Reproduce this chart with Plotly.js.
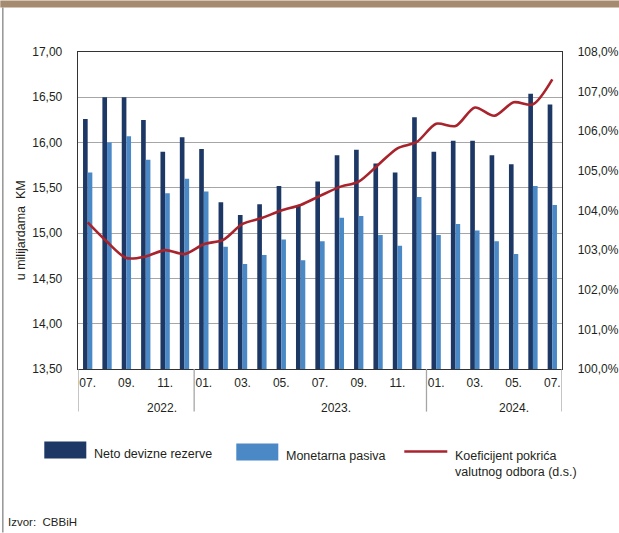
<!DOCTYPE html>
<html>
<head>
<meta charset="utf-8">
<script src="https://cdn.plot.ly/plotly-3.0.1.min.js"></script>
<style>
html,body{margin:0;padding:0;background:#fff;}
#chart{width:619px;height:533px;}
</style>
</head>
<body>
<div id="chart"></div>
<script>
// ---- data ----
const months = ['07.2022','08.2022','09.2022','10.2022','11.2022','12.2022',
  '01.2023','02.2023','03.2023','04.2023','05.2023','06.2023','07.2023','08.2023','09.2023','10.2023','11.2023','12.2023',
  '01.2024','02.2024','03.2024','04.2024','05.2024','06.2024','07.2024'];
const netoDevizneRezerve = [16.26,16.50,16.50,16.25,15.90,16.06,15.93,15.34,15.20,15.32,15.52,15.30,15.57,15.86,15.92,15.77,15.67,16.28,15.90,16.02,16.02,15.86,15.76,16.54,16.42];
const monetarnaPasiva = [15.67,16.00,16.07,15.81,15.44,15.60,15.46,14.85,14.66,14.76,14.93,14.70,14.91,15.17,15.19,14.98,14.86,15.40,14.98,15.10,15.03,14.91,14.77,15.52,15.31];
const koeficijent = [103.70,103.21,102.80,102.84,103.00,102.90,103.15,103.26,103.66,103.81,104.00,104.14,104.37,104.59,104.73,105.15,105.57,105.73,106.19,106.13,106.60,106.39,106.73,106.68,107.31];
const tickMonths = ['07.2022','09.2022','11.2022','01.2023','03.2023','05.2023','07.2023','09.2023','11.2023','01.2024','03.2024','05.2024','07.2024'];
const tickLabels = ['07.','09.','11.','01.','03.','05.','07.','09.','11.','01.','03.','05.','07.'];
const years = ['2022.','2023.','2024.'];
const seriesNames = ['Neto devizne rezerve','Monetarna pasiva','Koeficijent pokrića<br>valutnog odbora (d.s.)'];
const yTitle = 'u milijardama&nbsp; KM';
const sourceText = 'Izvor:&nbsp; CBBiH';

// ---- layout helpers (pixel -> paper) ----
const L = 77.7, R = 561.7, T = 51.7, B = 369.3;
const px = x => (x - L) / (R - L);
const py = y => (B - y) / (B - T);

const C_DARK = '#1d3865', C_LIGHT = '#4a88c6', C_RED = '#a8232c', C_TEXT = '#231f20';
const FONT = 'Liberation Sans, Arial, sans-serif';

const traces = [
  {type:'bar', x:months, y:netoDevizneRezerve, name:seriesNames[0], marker:{color:C_DARK}, showlegend:false, hoverinfo:'x+y'},
  {type:'bar', x:months, y:monetarnaPasiva, name:seriesNames[1], marker:{color:C_LIGHT}, showlegend:false, hoverinfo:'x+y'},
  {type:'scatter', mode:'lines', x:months, y:koeficijent, yaxis:'y2', name:seriesNames[2],
   line:{color:C_RED, width:2.6, shape:'spline', smoothing:0.8}, showlegend:false}
];

const shapes = [];
// top brown band & left frame line
shapes.push({type:'rect', xref:'paper', yref:'paper', x0:px(0), x1:px(619), y0:py(0), y1:py(7), fillcolor:'#a58b6f', line:{width:0}, layer:'above'});
shapes.push({type:'line', xref:'paper', yref:'paper', x0:px(2.5), x1:px(2.5), y0:py(7), y1:py(533), line:{color:'#9a9a9a', width:1.6}});
// year separators below axis
[-0.5, 5.5, 17.5, 24.5].forEach(v => shapes.push({type:'line', xref:'x', yref:'paper', x0:v, x1:v, y0:0, y1:py(412), line:{color:'#a6a6a6', width:1.3}}));
// legend swatches
shapes.push({type:'rect', xref:'paper', yref:'paper', x0:px(44), x1:px(86), y0:py(459), y1:py(442), fillcolor:C_DARK, line:{width:0}});
shapes.push({type:'rect', xref:'paper', yref:'paper', x0:px(236), x1:px(278), y0:py(461), y1:py(444), fillcolor:C_LIGHT, line:{width:0}});
shapes.push({type:'line', xref:'paper', yref:'paper', x0:px(404), x1:px(447), y0:py(452), y1:py(452), line:{color:C_RED, width:2.5}});

const ann = [];
const tf = {family:FONT, size:12.5, color:C_TEXT};
ann.push({xref:'paper', yref:'paper', x:px(92), y:py(454), xanchor:'left', yanchor:'middle', text:seriesNames[0], showarrow:false, font:tf});
ann.push({xref:'paper', yref:'paper', x:px(284), y:py(456), xanchor:'left', yanchor:'middle', text:seriesNames[1], showarrow:false, font:tf});
ann.push({xref:'paper', yref:'paper', x:px(453), y:py(464.5), xanchor:'left', yanchor:'middle', align:'left', text:seriesNames[2], showarrow:false, font:tf});
ann.push({xref:'paper', yref:'paper', x:px(21), y:py(230), xanchor:'center', yanchor:'middle', textangle:-90, text:yTitle, showarrow:false, font:{family:FONT, size:12.5, color:C_TEXT}});
ann.push({xref:'paper', yref:'paper', x:px(6), y:py(523), xanchor:'left', yanchor:'middle', text:sourceText, showarrow:false, font:{family:FONT, size:11.5, color:C_TEXT}});
const yearPos = [3.85, 12.84, 22.0];
years.forEach((t,i) => ann.push({xref:'x', yref:'paper', x:yearPos[i], y:py(408), xanchor:'center', yanchor:'middle', text:t, showarrow:false, font:{family:FONT, size:12, color:C_TEXT}}));

const layout = {
  width:619, height:533,
  margin:{l:L, r:619-R, t:T, b:533-B, pad:0},
  paper_bgcolor:'#fff', plot_bgcolor:'#fff',
  separators:',.',
  font:{family:FONT, size:12, color:C_TEXT},
  barmode:'group', bargap:0.52, bargroupgap:0,
  showlegend:false,
  xaxis:{type:'category', categoryorder:'array', categoryarray:months, tickvals:tickMonths, ticktext:tickLabels,
    showgrid:false, showline:true, mirror:true, linecolor:'#333', linewidth:1.3, ticks:'', ticklabelstandoff:2,
    tickfont:{family:FONT, size:12, color:C_TEXT}, range:[-0.5,24.5], fixedrange:true},
  yaxis:{range:[13.5,17], dtick:0.5, tickformat:'.2f', showgrid:true, gridcolor:'#a6a6a6', gridwidth:1,
    showline:true, linecolor:'#333', linewidth:1.3, ticks:'', ticklabelstandoff:12, zeroline:false,
    tickfont:{family:FONT, size:12, color:C_TEXT}},
  yaxis2:{overlaying:'y', side:'right', range:[100,108], dtick:1, tickformat:'.1f', ticksuffix:'%',
    showgrid:false, showline:true, linecolor:'#333', linewidth:1.3, ticks:'', ticklabelstandoff:12, zeroline:false,
    tickfont:{family:FONT, size:12, color:C_TEXT}},
  shapes:shapes, annotations:ann
};

Plotly.newPlot('chart', traces, layout, {displayModeBar:false, staticPlot:true});
</script>
</body>
</html>
